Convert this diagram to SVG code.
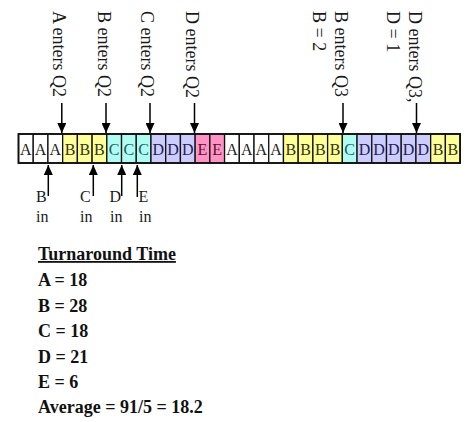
<svg xmlns="http://www.w3.org/2000/svg" width="468" height="422" viewBox="0 0 468 422">
<defs>
<style>
.lbl{font-family:"Liberation Serif","Times New Roman",serif;font-size:18px;fill:#1a1a1a}
.in{font-family:"Liberation Serif","Times New Roman",serif;font-size:16px;fill:#1a1a1a}
.cell rect{stroke:#111;stroke-width:1.3}
.cell text{font-family:"Liberation Serif","Times New Roman",serif;font-size:16px;text-anchor:middle}
.a{fill:#ffffff}.b{fill:#ffff99}.c{fill:#aefcf2}.d{fill:#ccccff}.e{fill:#ff93c4}
.ta{fill:#222}.tb{fill:#333318}.tc{fill:#1f5f66}.td{fill:#1e1e58}.te{fill:#5a1030}
.arr{stroke:#000;stroke-width:1.5;fill:none;marker-end:url(#ah)}
.tt{font-family:"Liberation Serif","Times New Roman",serif;font-size:18px;font-weight:bold;fill:#111}
</style>
<marker id="ah" markerUnits="userSpaceOnUse" markerWidth="10" markerHeight="9" refX="10" refY="4.5" orient="auto">
<path d="M0,0 L10,4.5 L0,9 z" fill="#000"/>
</marker>
</defs>
<rect width="468" height="422" fill="#fff"/>

<g id="timeline">
<g class="cell" id="c0"><rect class="a" x="18.5" y="134" width="14.72" height="29"/><text class="ta" x="25.86" y="154.5">A</text></g>
<g class="cell" id="c1"><rect class="a" x="33.22" y="134" width="14.72" height="29"/><text class="ta" x="40.58" y="154.5">A</text></g>
<g class="cell" id="c2"><rect class="a" x="47.94" y="134" width="14.72" height="29"/><text class="ta" x="55.3" y="154.5">A</text></g>
<g class="cell" id="c3"><rect class="b" x="62.66" y="134" width="14.72" height="29"/><text class="tb" x="70.02" y="154.5">B</text></g>
<g class="cell" id="c4"><rect class="b" x="77.38" y="134" width="14.72" height="29"/><text class="tb" x="84.74" y="154.5">B</text></g>
<g class="cell" id="c5"><rect class="b" x="92.1" y="134" width="14.72" height="29"/><text class="tb" x="99.46" y="154.5">B</text></g>
<g class="cell" id="c6"><rect class="c" x="106.82" y="134" width="14.72" height="29"/><text class="tc" x="114.18" y="154.5">C</text></g>
<g class="cell" id="c7"><rect class="c" x="121.54" y="134" width="14.72" height="29"/><text class="tc" x="128.9" y="154.5">C</text></g>
<g class="cell" id="c8"><rect class="c" x="136.26" y="134" width="14.72" height="29"/><text class="tc" x="143.62" y="154.5">C</text></g>
<g class="cell" id="c9"><rect class="d" x="150.98" y="134" width="14.72" height="29"/><text class="td" x="158.34" y="154.5">D</text></g>
<g class="cell" id="c10"><rect class="d" x="165.7" y="134" width="14.72" height="29"/><text class="td" x="173.06" y="154.5">D</text></g>
<g class="cell" id="c11"><rect class="d" x="180.42" y="134" width="14.72" height="29"/><text class="td" x="187.78" y="154.5">D</text></g>
<g class="cell" id="c12"><rect class="e" x="195.14" y="134" width="14.72" height="29"/><text class="te" x="202.5" y="154.5">E</text></g>
<g class="cell" id="c13"><rect class="e" x="209.86" y="134" width="14.72" height="29"/><text class="te" x="217.22" y="154.5">E</text></g>
<g class="cell" id="c14"><rect class="a" x="224.58" y="134" width="14.72" height="29"/><text class="ta" x="231.94" y="154.5">A</text></g>
<g class="cell" id="c15"><rect class="a" x="239.3" y="134" width="14.72" height="29"/><text class="ta" x="246.66" y="154.5">A</text></g>
<g class="cell" id="c16"><rect class="a" x="254.02" y="134" width="14.72" height="29"/><text class="ta" x="261.38" y="154.5">A</text></g>
<g class="cell" id="c17"><rect class="a" x="268.74" y="134" width="14.72" height="29"/><text class="ta" x="276.1" y="154.5">A</text></g>
<g class="cell" id="c18"><rect class="b" x="283.46" y="134" width="14.72" height="29"/><text class="tb" x="290.82" y="154.5">B</text></g>
<g class="cell" id="c19"><rect class="b" x="298.18" y="134" width="14.72" height="29"/><text class="tb" x="305.54" y="154.5">B</text></g>
<g class="cell" id="c20"><rect class="b" x="312.9" y="134" width="14.72" height="29"/><text class="tb" x="320.26" y="154.5">B</text></g>
<g class="cell" id="c21"><rect class="b" x="327.62" y="134" width="14.72" height="29"/><text class="tb" x="334.98" y="154.5">B</text></g>
<g class="cell" id="c22"><rect class="c" x="342.34" y="134" width="14.72" height="29"/><text class="tc" x="349.7" y="154.5">C</text></g>
<g class="cell" id="c23"><rect class="d" x="357.06" y="134" width="14.72" height="29"/><text class="td" x="364.42" y="154.5">D</text></g>
<g class="cell" id="c24"><rect class="d" x="371.78" y="134" width="14.72" height="29"/><text class="td" x="379.14" y="154.5">D</text></g>
<g class="cell" id="c25"><rect class="d" x="386.5" y="134" width="14.72" height="29"/><text class="td" x="393.86" y="154.5">D</text></g>
<g class="cell" id="c26"><rect class="d" x="401.22" y="134" width="14.72" height="29"/><text class="td" x="408.58" y="154.5">D</text></g>
<g class="cell" id="c27"><rect class="d" x="415.94" y="134" width="14.72" height="29"/><text class="td" x="423.3" y="154.5">D</text></g>
<g class="cell" id="c28"><rect class="b" x="430.66" y="134" width="14.72" height="29"/><text class="tb" x="438.02" y="154.5">B</text></g>
<g class="cell" id="c29"><rect class="b" x="445.38" y="134" width="14.72" height="29"/><text class="tb" x="452.74" y="154.5">B</text></g>
<rect x="18.5" y="134" width="441.6" height="29" fill="none" stroke="#111" stroke-width="1.8"/>
</g>

<g id="top-labels">
<g id="lbl-a-q2"><text class="lbl" transform="translate(53,11) rotate(90)">A enters Q2</text></g>
<g id="lbl-b-q2"><text class="lbl" transform="translate(97.5,11) rotate(90)">B enters Q2</text></g>
<g id="lbl-c-q2"><text class="lbl" transform="translate(141,11) rotate(90)">C enters Q2</text></g>
<g id="lbl-d-q2"><text class="lbl" transform="translate(185.5,11) rotate(90)">D enters Q2</text></g>
<g id="lbl-b-q3"><text class="lbl" transform="translate(335,11) rotate(90)">B enters Q3</text><text class="lbl" transform="translate(313,11) rotate(90)">B = 2</text></g>
<g id="lbl-d-q3"><text class="lbl" transform="translate(408.5,11) rotate(90)">D enters Q3,</text><text class="lbl" transform="translate(386.5,11) rotate(90)">D = 1</text></g>
</g>

<g id="bottom-labels">
<g id="in-b"><text class="in" x="36" y="202">B</text><text class="in" x="36" y="222">in</text></g>
<g id="in-c"><text class="in" x="80" y="202">C</text><text class="in" x="80" y="222">in</text></g>
<g id="in-d"><text class="in" x="109.5" y="202">D</text><text class="in" x="110" y="222">in</text></g>
<g id="in-e"><text class="in" x="138.5" y="202">E</text><text class="in" x="139" y="222">in</text></g>
</g>

<g id="connectors">
<path class="arr" d="M61.8,103 V133"/>
<path class="arr" d="M106,103 V133"/>
<path class="arr" d="M150,103 V133"/>
<path class="arr" d="M194.5,103 V133"/>
<path class="arr" d="M343,103 V133"/>
<path class="arr" d="M416.5,103 V133"/>
<path class="arr" d="M48.3,196 V165"/>
<path class="arr" d="M93.3,196 V165"/>
<path class="arr" d="M121.7,196 V165"/>
<path class="arr" d="M137.3,197 V165"/>
</g>

<g id="turnaround">
<text class="tt" x="38" y="260" text-decoration="underline">Turnaround Time</text>
<text class="tt" x="38" y="286">A = 18</text>
<text class="tt" x="38" y="311.5">B = 28</text>
<text class="tt" x="38" y="337">C = 18</text>
<text class="tt" x="38" y="362.5">D = 21</text>
<text class="tt" x="38" y="388">E = 6</text>
<text class="tt" x="38" y="413">Average = 91/5 = 18.2</text>
</g>
</svg>
